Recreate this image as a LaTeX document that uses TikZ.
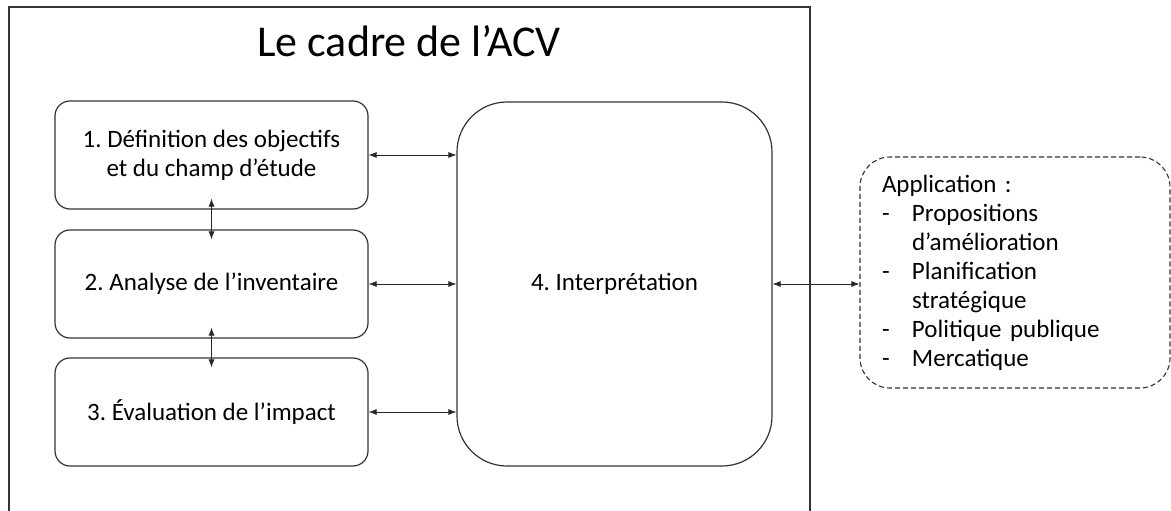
\documentclass[tikz,border=0pt]{standalone}
\usepackage{fontspec}
\setmainfont{Carlito}
\frenchspacing
\usetikzlibrary{positioning,arrows.meta}

\begin{document}
\begin{tikzpicture}[x=1pt,y=-1pt,
    etape/.style={draw=black!80,line width=1.2pt,rounded corners=15pt,minimum width=313pt,minimum height=108pt,align=center,font=\fontsize{25}{29}\selectfont},
    fleche/.style={{Latex[length=8pt,width=6pt]}-{Latex[length=8pt,width=6pt]},line width=0.8pt,black!85}]
  \useasboundingbox (0,0) rectangle (1171,511);
  \draw[black!80,line width=1.4pt] (9,530) |- (810,7) -- (810,530);
  \node[anchor=base,font=\fontsize{44}{50}\selectfont] (titre) at (409,57) {Le cadre de l’ACV};

  \node[etape] (def) at (211.5,155) {1. Définition des objectifs\\et du champ d’étude};
  \node[etape] (inv) at (211.5,284) {2. Analyse de l’inventaire};
  \node[etape] (imp) at (211.5,412) {3. Évaluation de l’impact};
  \node[etape,rounded corners=50pt,minimum width=315pt,minimum height=364pt] (interp) at (614.5,284) {4. Interprétation};
  \node[draw=black!80,line width=1.1pt,dash pattern=on 5pt off 3pt,rounded corners=30pt,minimum width=310pt,minimum height=231pt,
        text width=266pt,inner xsep=22pt,align=left,font=\fontsize{25}{29}\selectfont] (appli) at (1015,272.5)
       {Application :\\
        \makebox[30pt][l]{-}Propositions\\
        \hspace*{30pt}d’amélioration\\
        \makebox[30pt][l]{-}Planification\\
        \hspace*{30pt}stratégique\\
        \makebox[30pt][l]{-}Politique publique\\
        \makebox[30pt][l]{-}Mercatique};

  \draw[fleche] (def.east) -- (def.east -| interp.west);
  \draw[fleche] (inv.east) -- (inv.east -| interp.west);
  \draw[fleche] (imp.east) -- (imp.east -| interp.west);
  \draw[fleche,shorten <=-11pt,shorten >=-10pt] (def.south) -- (inv.north);
  \draw[fleche,shorten <=-11pt,shorten >=-10pt] (inv.south) -- (imp.north);
  \draw[fleche] (interp.east) -- (interp.east -| appli.west);
\end{tikzpicture}
\end{document}
